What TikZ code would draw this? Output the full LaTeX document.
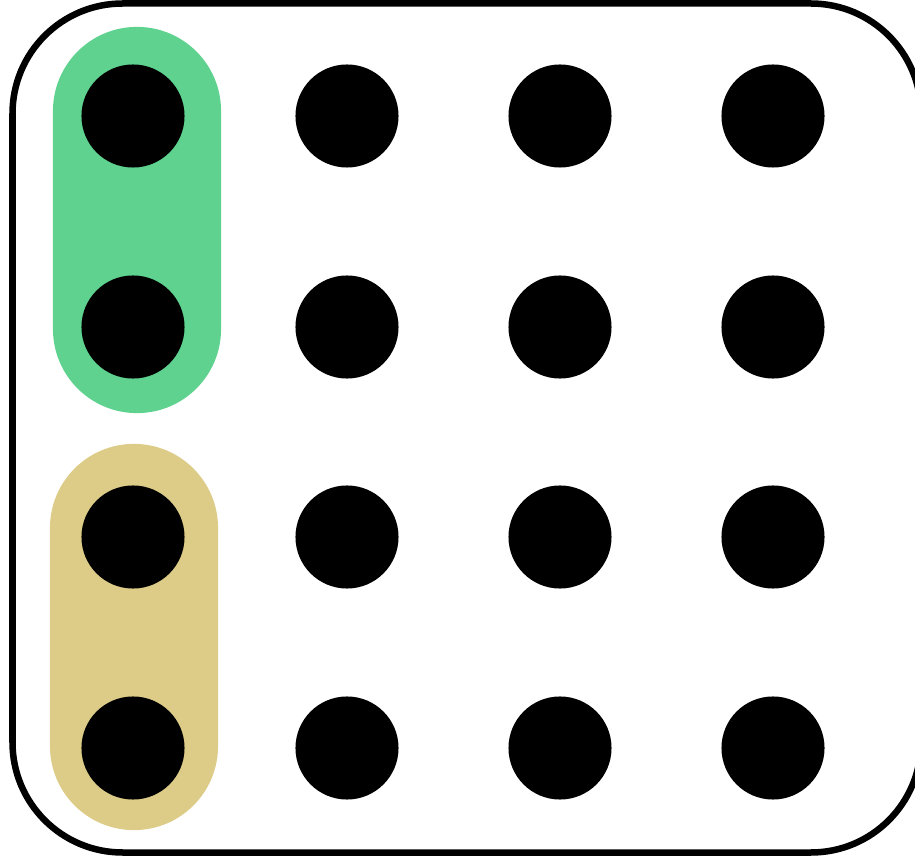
\documentclass[tikz,border=0pt]{standalone}
\usetikzlibrary{positioning}
\definecolor{Mint}{RGB}{94,210,142}
\definecolor{Sand}{RGB}{221,204,135}

\begin{document}
\begin{tikzpicture}[x=0.01cm,y=-0.01cm,
 dot/.style={circle,fill=black,inner sep=0pt,minimum size=1.03cm},
 pill/.style={rectangle,rounded corners=0.84cm,inner sep=0pt,minimum width=1.68cm,minimum height=3.86cm},
 frame/.style={line width=0.065cm,black,rounded corners=1.1cm}]
\useasboundingbox (0,0) rectangle (915,858);
\node[pill,fill=Mint] (g) at (137,220) {};
\node[pill,fill=Sand] (s) at (134,637) {};
\foreach \c/\x in {1/133,2/347,3/560,4/773}
 \foreach \r/\y in {1/116,2/327,3/537,4/748}
  \node[dot] (d\r\c) at (\x,\y) {};
\draw[frame] (12.5,3.5) rectangle (921,852.5);
\end{tikzpicture}
\end{document}
